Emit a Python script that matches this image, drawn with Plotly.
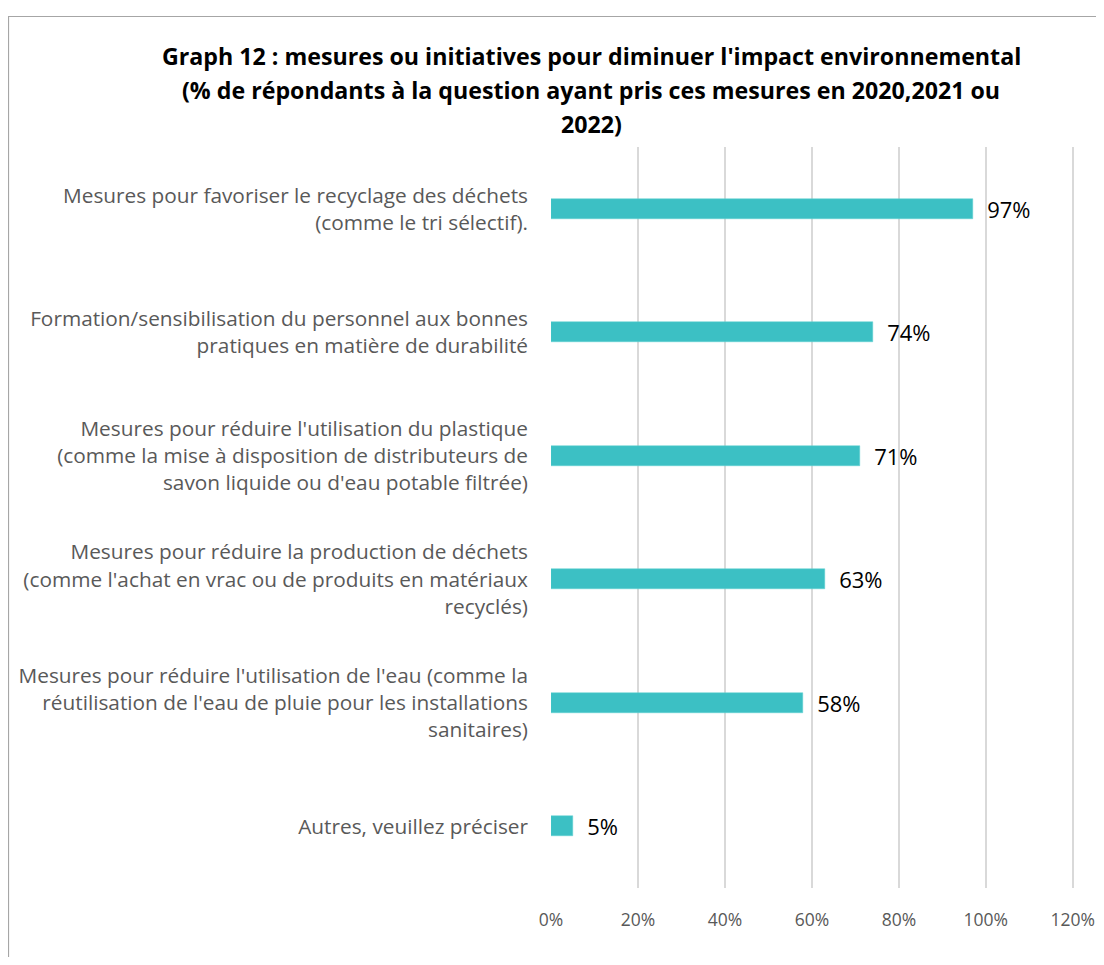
import plotly.graph_objects as go

categories = [
    "Mesures pour favoriser le recyclage des déchets<br>(comme le tri sélectif).",
    "Formation/sensibilisation du personnel aux bonnes<br>pratiques en matière de durabilité",
    "Mesures pour réduire l'utilisation du plastique<br>(comme la mise à disposition de distributeurs de<br>savon liquide ou d'eau potable filtrée)",
    "Mesures pour réduire la production de déchets<br>(comme l'achat en vrac ou de produits en matériaux<br>recyclés)",
    "Mesures pour réduire l'utilisation de l'eau (comme la<br>réutilisation de l'eau de pluie pour les installations<br>sanitaires)",
    "Autres, veuillez préciser",
]
values = [0.97, 0.74, 0.71, 0.63, 0.58, 0.05]
labels = ["97%", "74%", "71%", "63%", "58%", "5%"]
x_ticks = [0, 0.2, 0.4, 0.6, 0.8, 1.0, 1.2]
x_tick_labels = ["0%", "20%", "40%", "60%", "80%", "100%", "120%"]
title_lines = [
    "Graph 12 : mesures ou initiatives pour diminuer l'impact environnemental",
    "(% de répondants à la question ayant pris ces mesures en 2020,2021 ou",
    "2022)",
]

# page body has an 8px margin on every side; figure coordinates = screen - 8
OFF = 8
W, H = 1104 - 2 * OFF, 965 - 2 * OFF
L, T = 551 - OFF, 147 - OFF
R = W - (1075 - OFF)
B = H - (888 - OFF)
pw, ph = W - L - R, H - T - B

fig = go.Figure()
fig.add_trace(go.Bar(
    y=list(range(len(categories))),
    x=values,
    orientation="h",
    width=0.165,
    marker=dict(color="#3CC0C4", line=dict(color="#5fd0d3", width=0.5)),
    text=["\u00a0\u00a0" + s for s in labels],
    textposition="outside",
    constraintext="none",
    textfont=dict(family="Open Sans", size=22, color="#000000"),
    cliponaxis=False,
    hoverinfo="skip",
))

def px_to_paper_x(px):
    return (px - OFF - L) / pw

def px_to_paper_y(py):
    return (H - B - (py - OFF)) / ph

# Title lines
for line, ypx in zip(title_lines, [56, 90, 124]):
    fig.add_annotation(
        text="<b>" + line + "</b>", x=px_to_paper_x(591), y=px_to_paper_y(ypx),
        xref="paper", yref="paper", xanchor="center", yanchor="middle",
        showarrow=False, font=dict(family="Open Sans", size=23.2, color="#000000"),
    )

# Chart frame
fig.add_shape(
    type="rect", xref="paper", yref="paper",
    x0=px_to_paper_x(8.5), x1=px_to_paper_x(1130),
    y0=px_to_paper_y(1000), y1=px_to_paper_y(16.5),
    line=dict(color="#a6a6a6", width=1.2), layer="below",
)

fig.update_layout(
    width=W, height=H,
    margin=dict(l=L, r=R, t=T, b=B, autoexpand=False),
    paper_bgcolor="white", plot_bgcolor="white",
    showlegend=False,
    bargap=0,
    xaxis=dict(
        range=[0, 1.205], tickvals=x_ticks, ticktext=x_tick_labels,
        showgrid=True, gridcolor="#d9d9d9", gridwidth=1.5,
        zeroline=False, showline=False,
        tickfont=dict(family="Open Sans", size=17.5, color="#595959"),
        ticks="", ticklabelstandoff=19, ticklabeloverflow="allow",
    ),
    yaxis=dict(
        range=[5.5, -0.5], tickvals=list(range(len(categories))), ticktext=categories,
        showgrid=False, zeroline=False, showline=False,
        tickfont=dict(family="Open Sans", size=20.8, color="#595959"),
        ticks="", ticklabelstandoff=22,
    ),
)

fig.write_html("out.html")
